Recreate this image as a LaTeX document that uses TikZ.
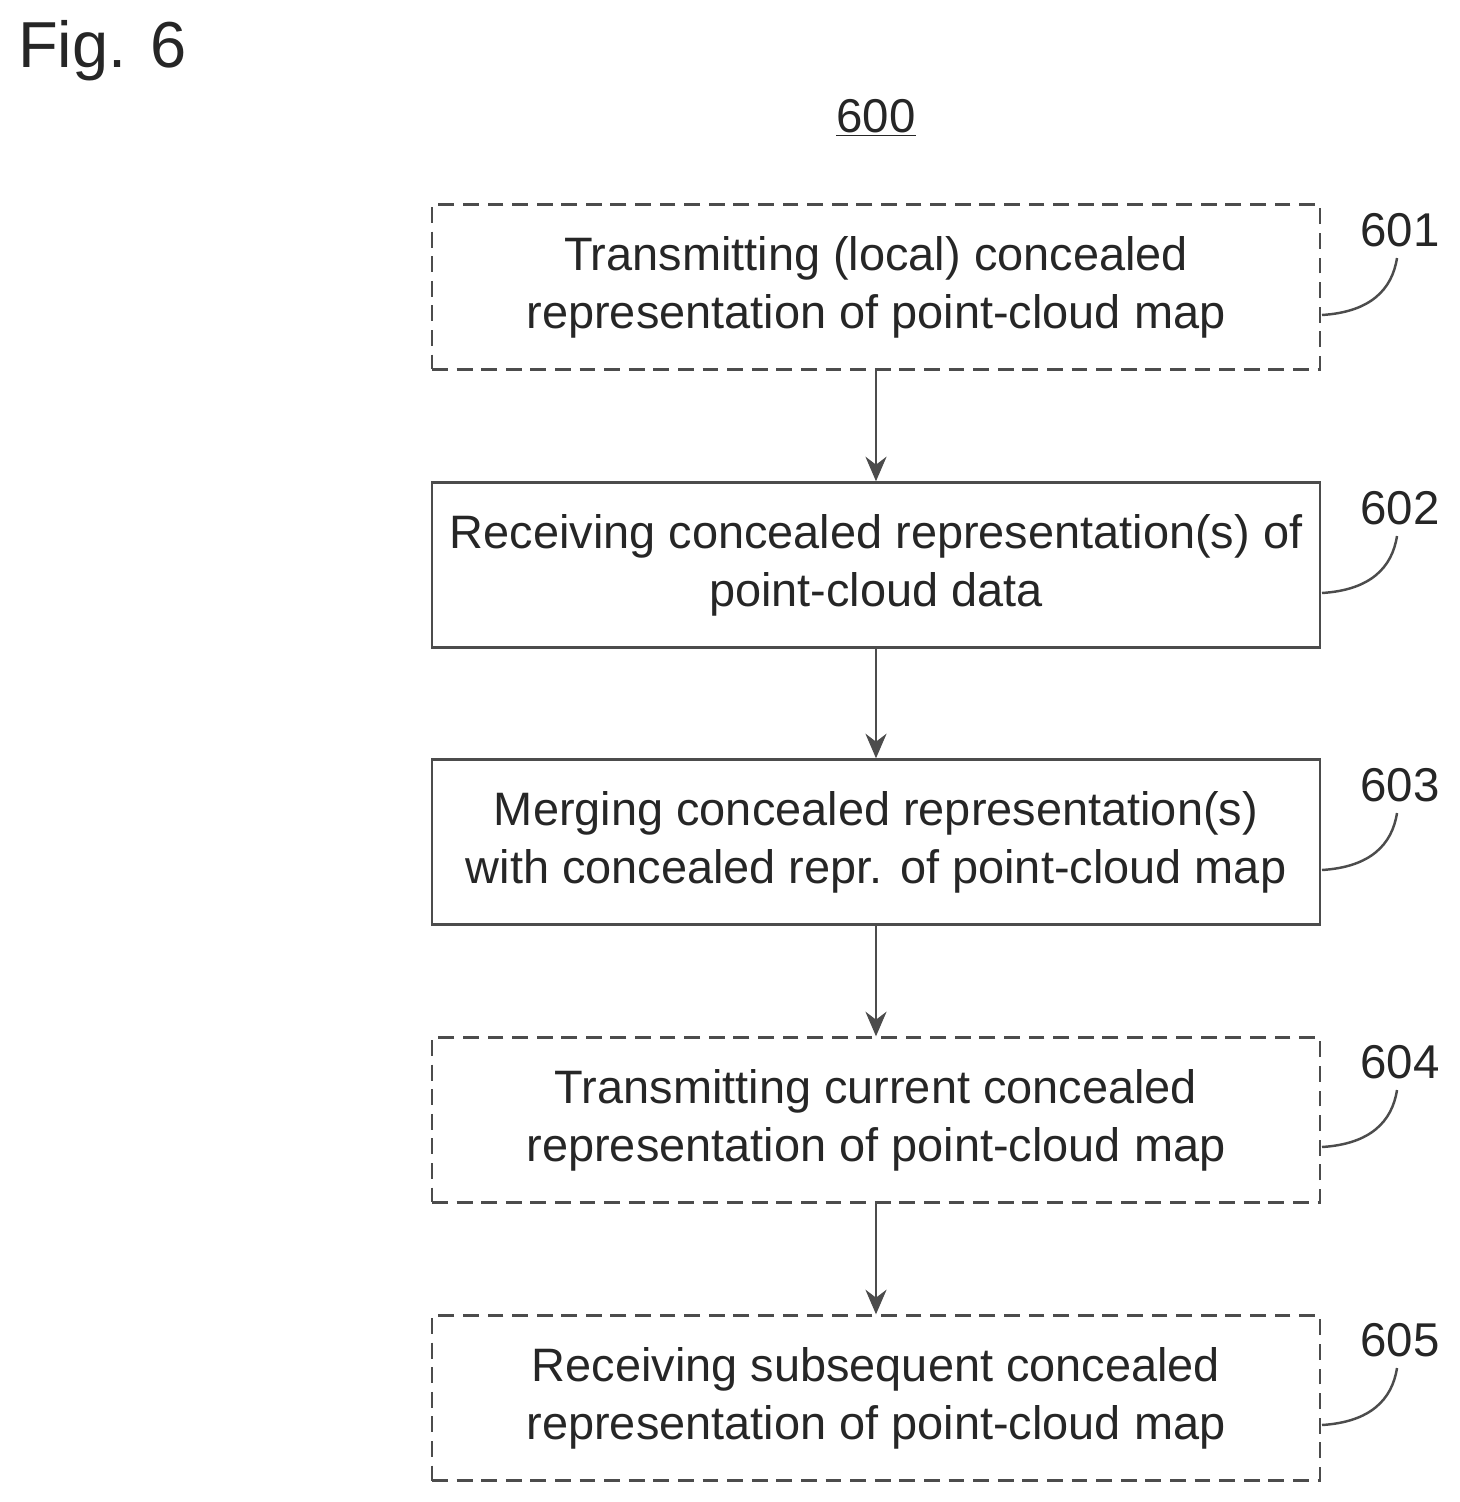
\documentclass[tikz,border=0pt]{standalone}
\usepackage{fontspec}
\setmainfont{Liberation Sans}
\usetikzlibrary{arrows.meta}
\tikzset{
  stepbox/.style={draw=black!70, line width=1.4pt, minimum width=17.76cm, minimum height=3.3cm,
    align=center, font=\fontsize{26.7}{33}\selectfont, text=black!85},
  optbox/.style={stepbox, dash pattern=on 9pt off 5pt},
  flow/.style={draw=black!70, line width=1.4pt, -{Stealth[length=14pt,width=12pt]}},
  tag/.style={font=\fontsize{27}{33}\selectfont, text=black!85},
  lead/.style={draw=black!70, line width=1.4pt}
}
\begin{document}
\begin{tikzpicture}[x=0.02cm,y=-0.02cm]
\useasboundingbox (0,0) rectangle (1460,1502);
\node[anchor=north west, font=\fontsize{37}{41}\selectfont, text=black!85] (fig) at (12,14) {Fig. 6};
\node[tag] (num) at (876,118) {\underline{600}};

\node[optbox]  (s601) at (876,287)  {Transmitting (local) concealed\\representation of point-cloud map};
\node[stepbox] (s602) at (876,565)  {Receiving concealed representation(s) of\\point-cloud data};
\node[stepbox] (s603) at (876,842)  {Merging concealed representation(s)\\with concealed repr. of point-cloud map};
\node[optbox]  (s604) at (876,1120) {Transmitting current concealed\\representation of point-cloud map};
\node[optbox]  (s605) at (876,1398) {Receiving subsequent concealed\\representation of point-cloud map};

\draw[flow] (s601) -- (s602);
\draw[flow] (s602) -- (s603);
\draw[flow] (s603) -- (s604);
\draw[flow] (s604) -- (s605);

% reference numerals
\foreach \n/\y in {601/230, 602/508, 603/785, 604/1062, 605/1340}{
  \node[tag] (t\n) at (1400,\y) {\n};
  \coordinate (c\n) at (1322,\y+85);
  \draw[lead] (c\n) .. controls (1370,\y+82) and (1392,\y+60) .. (1397,\y+28);
}
\end{tikzpicture}
\end{document}
